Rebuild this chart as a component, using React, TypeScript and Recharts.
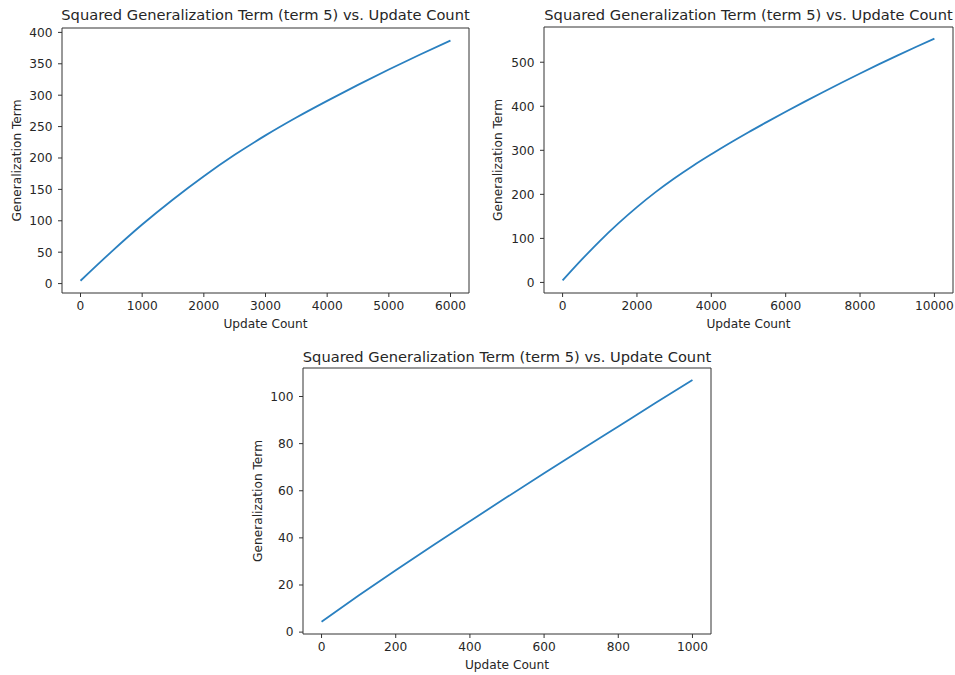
import React from "react";
import { LineChart, Line, XAxis, YAxis, ReferenceArea, Label } from "recharts";

// ---- Data ----
const updates1 = [0, 500, 1000, 1500, 2000, 2500, 3000, 3500, 4000, 4500, 5000, 5500, 6000];
const term1 = [4.5, 50.5, 94, 134, 171, 205, 236, 264.5, 291, 316.5, 341, 364.5, 387];

const updates2 = [
  0, 500, 1000, 1500, 2000, 2500, 3000, 3500, 4000, 4500, 5000,
  5500, 6000, 6500, 7000, 7500, 8000, 8500, 9000, 9500, 10000,
];
const term2 = [
  4.5, 50.5, 94, 134, 171, 205, 236, 264.5, 291, 316.5, 341,
  364.5, 387.5, 410, 432, 453.5, 474.5, 495, 515, 534.5, 553.5,
];

const updates3 = [0, 100, 200, 300, 400, 500, 600, 700, 800, 900, 1000];
const term3 = [4.4, 15.5, 26.3, 36.8, 47.1, 57.3, 67.4, 77.4, 87.3, 97.2, 107.0];

const xTicks1 = [0, 1000, 2000, 3000, 4000, 5000, 6000];
const yTicks1 = [0, 50, 100, 150, 200, 250, 300, 350, 400];
const xTicks2 = [0, 2000, 4000, 6000, 8000, 10000];
const yTicks2 = [0, 100, 200, 300, 400, 500];
const xTicks3 = [0, 200, 400, 600, 800, 1000];
const yTicks3 = [0, 20, 40, 60, 80, 100];

const TITLE = "Squared Generalization Term (term 5) vs. Update Count";
const X_LABEL = "Update Count";
const Y_LABEL = "Generalization Term";

const FONT = "'DejaVu Sans', sans-serif";
const TEXT = "#262626";
const FRAME = "#333333";
const LINE = "#2a80c0";
const FS = 12.2;

type PanelProps = {
  left: number;
  top: number;
  width: number;
  height: number;
  margin: { top: number; right: number; bottom: number; left: number };
  yAxisWidth: number;
  yLabelOffset: number;
  xs: number[];
  ys: number[];
  xDomain: [number, number];
  yDomain: [number, number];
  xTicks: number[];
  yTicks: number[];
  titleY: number;
};

function Panel(p: PanelProps) {
  const data = p.xs.map((x, i) => ({ x, y: p.ys[i] }));
  const plotLeft = p.margin.left + p.yAxisWidth;
  const plotRight = p.width - p.margin.right;
  const cx = (plotLeft + plotRight) / 2;
  const tickStyle = { fill: TEXT, fontSize: FS, fontFamily: FONT };
  return (
    <div style={{ position: "absolute", left: p.left, top: p.top, width: p.width, height: p.height }}>
      <div
        style={{
          position: "absolute",
          left: cx - 300,
          width: 600,
          top: p.titleY - 10,
          height: 20,
          lineHeight: "20px",
          textAlign: "center",
          fontFamily: FONT,
          fontSize: 14.65,
          color: TEXT,
          whiteSpace: "nowrap",
        }}
      >
        {TITLE}
      </div>
      <LineChart width={p.width} height={p.height} data={data} margin={p.margin}>
        <XAxis
          dataKey="x"
          type="number"
          domain={p.xDomain}
          ticks={p.xTicks}
          allowDataOverflow
          height={30}
          tickSize={4}
          tickMargin={4}
          axisLine={false}
          tickLine={{ stroke: FRAME }}
          tick={tickStyle}
        >
          <Label
            value={X_LABEL}
            position="insideBottom"
            offset={-5}
            style={{ fill: TEXT, fontSize: FS, fontFamily: FONT }}
          />
        </XAxis>
        <YAxis
          type="number"
          domain={p.yDomain}
          ticks={p.yTicks}
          allowDataOverflow
          width={p.yAxisWidth}
          tickSize={4}
          tickMargin={5.5}
          axisLine={false}
          tickLine={{ stroke: FRAME }}
          tick={tickStyle}
        >
          <Label
            value={Y_LABEL}
            angle={-90}
            position="insideLeft"
            offset={p.yLabelOffset}
            style={{ fill: TEXT, fontSize: FS, fontFamily: FONT, textAnchor: "middle" }}
          />
        </YAxis>
        <ReferenceArea
          x1={p.xDomain[0]}
          x2={p.xDomain[1]}
          y1={p.yDomain[0]}
          y2={p.yDomain[1]}
          fill="none"
          stroke={FRAME}
          strokeWidth={1}
        />
        <Line
          dataKey="y"
          type="monotone"
          stroke={LINE}
          strokeWidth={1.8}
          dot={false}
          isAnimationActive={false}
        />
      </LineChart>
    </div>
  );
}

export default function App() {
  return (
    <div style={{ position: "absolute", left: 0, top: 0, width: 955, height: 675, background: "#fff" }}>
      <Panel
        left={0}
        top={0}
        width={480}
        height={340}
        margin={{ top: 28, right: 11, bottom: 17, left: 0 }}
        yAxisWidth={62}
        yLabelOffset={17}
        xs={updates1}
        ys={term1}
        xDomain={[-300, 6300]}
        yDomain={[-15, 407]}
        xTicks={xTicks1}
        yTicks={yTicks1}
        titleY={15}
      />
      <Panel
        left={478}
        top={0}
        width={477}
        height={340}
        margin={{ top: 27, right: 2, bottom: 17, left: 0 }}
        yAxisWidth={66}
        yLabelOffset={20}
        xs={updates2}
        ys={term2}
        xDomain={[-500, 10500]}
        yDomain={[-24, 580]}
        xTicks={xTicks2}
        yTicks={yTicks2}
        titleY={15}
      />
      <Panel
        left={240}
        top={340}
        width={480}
        height={335}
        margin={{ top: 28, right: 9, bottom: 11, left: 0 }}
        yAxisWidth={63}
        yLabelOffset={18}
        xs={updates3}
        ys={term3}
        xDomain={[-50, 1050]}
        yDomain={[-0.8, 112.1]}
        xTicks={xTicks3}
        yTicks={yTicks3}
        titleY={16.7}
      />
    </div>
  );
}
